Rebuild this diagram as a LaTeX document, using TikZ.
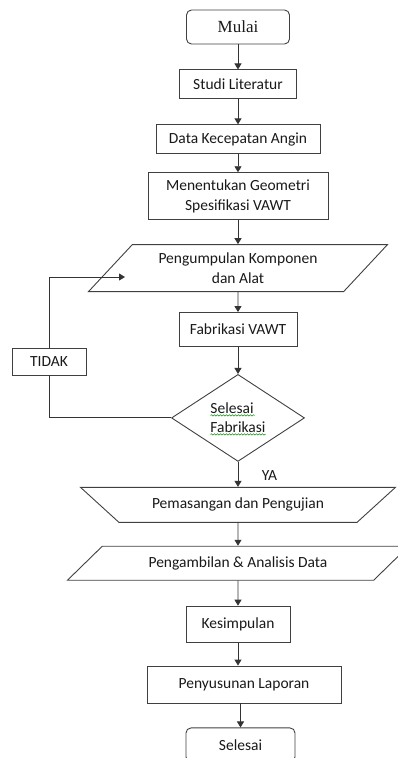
\documentclass[tikz,border=0pt]{standalone}
\usepackage{fontspec}
\setmainfont{Carlito}
\newfontfamily\hurufmulai{Liberation Serif}
\usetikzlibrary{positioning}
\usetikzlibrary{arrows.meta}
\usetikzlibrary{shapes.geometric}
\usetikzlibrary{decorations.pathmorphing}

\tikzset{
  box/.style={draw=black!75, line width=0.9pt, rectangle, inner sep=2pt,
    text=black!90, font=\fontsize{15.5}{19.5}\selectfont, align=center},
  rbox/.style={box, rounded corners=5pt},
  miring/.style 2 args={box, trapezium, trapezium stretches body,
    trapezium left angle=#1, trapezium right angle=#2},
  keputusan/.style={box, diamond, inner sep=0pt, align=left},
  garis/.style={draw=black!80, line width=0.9pt},
  panah/.style={garis, -{Triangle[length=6pt,width=7pt]}},
  gelombang/.style={draw=green!55!black, line width=0.5pt,
    decorate, decoration={snake, amplitude=0.7pt, segment length=3pt}}
}

\begin{document}
\begin{tikzpicture}[x=1pt, y=1pt]
    \useasboundingbox (0,0) rectangle (398,-758);
    \node[rbox, minimum width=103pt, minimum height=34pt,
      font=\hurufmulai\fontsize{17}{20}\selectfont] (mulai) at (238,-27) {Mulai};
    \node[box, below = 25pt of mulai, minimum width=117pt, minimum height=29pt] (studi) {Studi Literatur};
    \node[box, below = 25pt of studi, minimum width=164pt, minimum height=29pt] (data) {Data Kecepatan Angin};
    \node[box, below = 18pt of data, minimum width=180pt, minimum height=47pt] (geom) {Menentukan Geometri\\Spesifikasi VAWT};
    \node[miring={38.1}{141.9}, below = 24pt of geom, minimum width=299pt, minimum height=47pt] (kumpul) {Pengumpulan Komponen\\dan Alat};
    \node[box, below = 20pt of kumpul, minimum width=118pt, minimum height=34pt] (fab) {Fabrikasi VAWT};
    \node[keputusan, below = 27pt of fab, minimum width=133pt, minimum height=87pt] (sel) {Selesai\\Fabrikasi};
    \node[miring={24.4}{24.4}, shape border rotate=180, below = 25pt of sel, minimum width=315pt, minimum height=35pt] (pasang) {Pemasangan dan Pengujian};
    \node[miring={26.6}{153.4}, below = 23pt of pasang, minimum width=341pt, minimum height=34pt] (ambil) {Pengambilan \& Analisis Data};
    \node[box, below = 25pt of ambil, minimum width=104pt, minimum height=36pt] (kesimpulan) {Kesimpulan};
    \node[box, below = 23pt of kesimpulan, xshift=6pt, minimum width=194pt, minimum height=37pt] (susun) {Penyusunan Laporan};
    \node[rbox, below = 24pt of susun, xshift=-3.5pt, minimum width=109pt, minimum height=34pt] (selesai) {Selesai};
    \node[box, minimum width=74pt, minimum height=27pt] (tidak) at (49,-361.5) {TIDAK};
    \coordinate (masuk) at (125,-277);

    \draw[panah] (mulai) -- (mulai |- studi.north);
    \draw[panah] (studi) -- (studi |- data.north);
    \draw[panah] (data) -- (data |- geom.north);
    \draw[panah] (geom) -- (geom |- kumpul.north);
    \draw[panah] (kumpul) -- (kumpul |- fab.north);
    \draw[panah] (fab) -- (fab |- sel.north);
    \draw[panah] (sel) -- (sel |- pasang.north) node[pos=0.55, right=20pt, font=\fontsize{15.5}{19.5}\selectfont, text=black!90] (ya) {YA};
    \draw[panah] (pasang) -- (pasang |- ambil.north);
    \draw[panah] (ambil) -- (ambil |- kesimpulan.north);
    \draw[panah] (kesimpulan) -- (kesimpulan |- susun.north);
    \draw[panah] (selesai |- susun.south) -- (selesai);

    % jalur kembali
    \path[garis] (sel.west) -| (tidak.south);
    \draw[panah] (tidak.north) |- (masuk);

    % garis ejaan
    \draw[gelombang] ([shift={(-27.5pt,2.5pt)}]sel.center) -- ++(44pt,0);
    \draw[gelombang] ([shift={(-27.5pt,-16.5pt)}]sel.center) -- ++(55pt,0);
\end{tikzpicture}
\end{document}
